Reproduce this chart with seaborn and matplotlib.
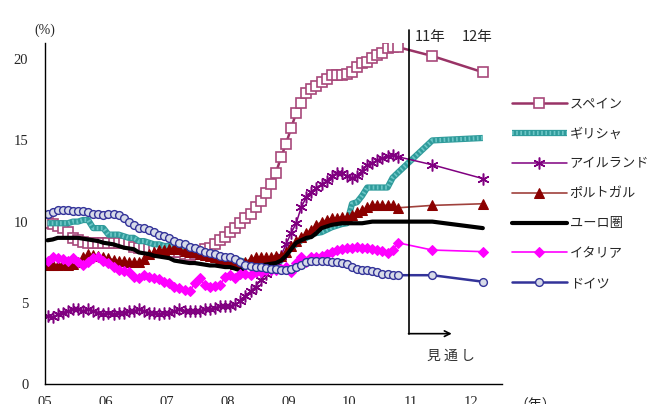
import numpy as np
import pandas as pd
import seaborn as sns
import matplotlib.pyplot as plt

# monthly data Jan 2005 - Oct 2010, then outlook for 11 and 12
months = 2005 + (np.arange(70) + 0.5) / 12
fc_x = [2011.36, 2012.19]

spain = [9.9, 9.85, 9.75, 9.6, 9.35, 9.0, 8.85, 8.75, 8.7, 8.7,
         8.7, 8.7, 8.7, 8.7, 8.7, 8.7, 8.6, 8.45, 8.4, 8.35,
         8.3, 8.3, 8.25, 8.2, 8.2, 8.15, 8.1, 8.0, 7.95, 8.0,
         8.1, 8.3, 8.4, 8.6, 8.85, 9.05, 9.35, 9.6, 9.9, 10.2,
         10.5, 10.9, 11.3, 11.75, 12.3, 13.0, 13.95, 14.8, 15.75, 16.7,
         17.3, 17.9, 18.15, 18.35, 18.6, 18.8, 19.0, 19.0, 19.0, 19.1,
         19.2, 19.5, 19.75, 19.8, 20.05, 20.25, 20.4, 20.7, 20.75, 20.75]
spain_fc = [20.2, 19.2]

greece = [9.9, 9.9, 9.9, 9.9, 9.9, 10.0, 10.0, 10.1, 10.1, 9.6,
          9.6, 9.6, 9.2, 9.2, 9.2, 9.1, 9.0, 9.0, 8.8, 8.8,
          8.7, 8.6, 8.6, 8.5, 8.5, 8.4, 8.3, 8.3, 8.2, 8.2,
          8.1, 8.0, 8.0, 7.9, 7.8, 7.8, 7.75, 7.7, 7.6, 7.5,
          7.4, 7.4, 7.35, 7.3, 7.3, 7.35, 7.6, 8.0, 8.4, 8.6,
          8.85, 9.0, 9.2, 9.3, 9.35, 9.5, 9.65, 9.75, 9.85, 9.9,
          11.1, 11.2, 11.6, 12.1, 12.1, 12.1, 12.1, 12.1, 12.7, 13.0]
greece_fc = [15.0, 15.15]

ireland = [4.2, 4.1, 4.3, 4.4, 4.5, 4.6, 4.6, 4.5, 4.6, 4.5,
           4.4, 4.3, 4.4, 4.3, 4.4, 4.4, 4.5, 4.5, 4.6, 4.5,
           4.4, 4.4, 4.3, 4.4, 4.4, 4.5, 4.6, 4.5, 4.5, 4.5,
           4.5, 4.6, 4.6, 4.7, 4.8, 4.8, 4.8, 4.9, 5.1, 5.4,
           5.7, 6.0, 6.4, 6.8, 7.1, 7.5, 7.9, 8.6, 9.3, 9.9,
           10.9, 11.5, 11.8, 12.1, 12.3, 12.5, 12.8, 13.0, 13.0, 12.8,
           12.7, 12.8, 13.1, 13.5, 13.6, 13.8, 13.9, 14.05, 14.1, 14.0]
ireland_fc = [13.5, 12.65]

portugal = [7.3, 7.3, 7.3, 7.4, 7.3, 7.4, 7.5, 7.8, 8.0, 7.95,
            7.9, 7.8, 7.75, 7.65, 7.6, 7.55, 7.5, 7.5, 7.5, 7.7,
            8.0, 8.15, 8.25, 8.25, 8.3, 8.35, 8.3, 8.2, 8.15, 8.1,
            8.0, 7.95, 7.9, 7.8, 7.7, 7.6, 7.5, 7.4, 7.3, 7.5,
            7.7, 7.8, 7.8, 7.8, 7.85, 7.9, 7.9, 8.1, 8.5, 8.8,
            9.05, 9.3, 9.5, 9.8, 10.0, 10.1, 10.2, 10.25, 10.3, 10.3,
            10.4, 10.6, 10.7, 10.9, 11.0, 11.0, 11.0, 11.0, 11.0, 10.85]
portugal_fc = [11.0, 11.1]

euro = [8.85, 8.9, 9.0, 9.0, 9.0, 9.0, 9.0, 8.95, 8.9, 8.85,
        8.8, 8.7, 8.65, 8.6, 8.5, 8.4, 8.35, 8.3, 8.1, 8.05,
        8.0, 7.9, 7.85, 7.8, 7.75, 7.6, 7.55, 7.5, 7.45, 7.45,
        7.4, 7.35, 7.3, 7.3, 7.25, 7.2, 7.2, 7.1, 7.0, 7.2,
        7.25, 7.3, 7.3, 7.35, 7.4, 7.45, 7.6, 7.9, 8.3, 8.7,
        8.85, 9.0, 9.05, 9.3, 9.6, 9.7, 9.8, 9.85, 9.9, 9.9,
        9.9, 9.9, 9.9, 9.95, 10.0, 10.0, 10.0, 10.0, 10.0, 10.0]
euro_fc = [10.0, 9.6]

italy = [7.6, 7.8, 7.75, 7.7, 7.6, 7.75, 7.5, 7.3, 7.5, 7.75,
         7.8, 7.6, 7.45, 7.2, 7.0, 6.95, 6.9, 6.6, 6.5, 6.7,
         6.6, 6.5, 6.45, 6.3, 6.2, 6.0, 5.9, 5.8, 5.7, 6.2,
         6.5, 6.1, 6.0, 6.05, 6.1, 6.6, 6.7, 6.5, 6.8, 6.75,
         6.7, 6.9, 6.9, 7.0, 7.0, 7.05, 7.1, 7.2, 6.9, 7.45,
         7.8, 7.5, 7.8, 7.85, 7.9, 8.0, 8.1, 8.25, 8.3, 8.35,
         8.4, 8.45, 8.4, 8.35, 8.3, 8.25, 8.2, 8.05, 8.25, 8.7]
italy_fc = [8.25, 8.15]

germany = [10.5, 10.6, 10.7, 10.7, 10.7, 10.65, 10.65, 10.65, 10.6, 10.5,
           10.5, 10.4, 10.5, 10.5, 10.4, 10.2, 10.0, 9.8, 9.6, 9.6,
           9.5, 9.35, 9.2, 9.1, 9.0, 8.8, 8.7, 8.6, 8.45, 8.35,
           8.25, 8.1, 8.05, 8.0, 7.9, 7.8, 7.8, 7.7, 7.5, 7.3,
           7.25, 7.2, 7.2, 7.15, 7.1, 7.1, 7.0, 7.05, 7.1, 7.2,
           7.35, 7.5, 7.6, 7.6, 7.6, 7.55, 7.5, 7.5, 7.45, 7.4,
           7.2, 7.1, 7.0, 7.0, 6.95, 6.9, 6.8, 6.75, 6.7, 6.7]
germany_fc = [6.7, 6.3]

labels = ["スペイン", "ギリシャ", "アイルランド", "ポルトガル", "ユーロ圏", "イタリア", "ドイツ"]
year_ticks = [2005, 2006, 2007, 2008, 2009, 2010, 2011, 2012]
year_labels = ["05", "06", "07", "08", "09", "10", "11", "12"]

x_all = np.concatenate([months, fc_x])

sns.set_style("white")
plt.rcParams['font.family'] = ['Noto Sans CJK JP', 'DejaVu Sans']

fig = plt.figure(figsize=(6.55, 4.04), dpi=100)
ax = fig.add_axes([45 / 655, 20 / 404, (501.7 - 45) / 655, (384 - 43) / 404])

def draw(vals, fc, **kw):
    y = np.concatenate([vals, fc])
    sns.lineplot(x=x_all, y=y, ax=ax, estimator=None, sort=False, legend=False, **kw)
    return ax.lines[-1]

h_spain = draw(spain, spain_fc, color="#993366", lw=1.8, marker="s", ms=6.8,
               mfc="white", mec="#a8487a", mew=1.2)
h_greece = draw(greece, greece_fc, color="#2f9b9b", lw=4.5, solid_capstyle="butt")
h_greece2, = ax.plot(x_all, np.concatenate([greece, greece_fc]), color="#6cc6c6",
                     lw=3.0, ls=(0, (0.4, 0.6)))
h_ireland = draw(ireland, ireland_fc, color="#800080", lw=1.1, marker=(6, 2, 0), ms=8.5,
                 mec="#800080", mew=1.1)
h_portugal = draw(portugal, portugal_fc, color="#a0413c", lw=1.2, marker="^", ms=6.5,
                  mfc="#8b0000", mec="#8b0000")
h_euro = draw(euro, euro_fc, color="black", lw=3.0)
h_italy = draw(italy, italy_fc, color="#ff00ff", lw=1.2, marker="D", ms=4.6,
               mfc="#ff00ff", mec="#ff00ff")
h_germany = draw(germany, germany_fc, color="#333399", lw=1.8, marker="o", ms=5.6,
                 mfc="#d7dbe8", mec="#333399", mew=1.0)

ax.set_xlim(2005, 2012.5)
ax.set_ylim(0, 21)
ax.set_xticks(year_ticks)
ax.set_xticklabels(year_labels)
ax.set_yticks([0, 5, 10, 15, 20])
ax.set_xlabel("")
ax.set_ylabel("")
for lab in ax.get_xticklabels() + ax.get_yticklabels():
    lab.set_family("Liberation Serif")
    lab.set_fontsize(10.5)
ax.tick_params(axis="both", direction="in", length=5, width=1, color="black")
ax.tick_params(axis="x", pad=9)
ax.tick_params(axis="y", pad=12)
for s in ["top", "right"]:
    ax.spines[s].set_visible(False)
for s in ["left", "bottom"]:
    ax.spines[s].set_color("black")
    ax.spines[s].set_linewidth(1.0)

# outlook marker
vx = 2010.98
ax.plot([vx, vx], [21.8, 3.1], color="black", lw=1.2, clip_on=False)
ax.annotate("", xy=(2011.68, 3.1), xytext=(vx - 0.01, 3.1),
            arrowprops=dict(arrowstyle="->", color="black", lw=1.2,
                            shrinkA=0, shrinkB=0), annotation_clip=False)
ax.text(2011.67, 1.75, "見 通 し", ha="center", va="center", fontsize=10, color="#333333")
ax.text(2011.32, 21.35, "11年", ha="center", va="center", fontsize=10.5, clip_on=False)
ax.text(2012.09, 21.35, "12年", ha="center", va="center", fontsize=10.5, clip_on=False)
ax.text(2005.0, 21.8, "(%)", ha="center", va="center", fontsize=10,
        family="Liberation Serif", clip_on=False)
fig.text(535 / 655, -2 / 404, "（年）", ha="center", va="center", fontsize=10)

leg = ax.legend([h_spain, (h_greece, h_greece2), h_ireland, h_portugal, h_euro, h_italy, h_germany],
                labels, loc="upper left", bbox_to_anchor=(505 / 655, 1 - 91 / 404),
                bbox_transform=fig.transFigure, frameon=False, fontsize=9.5,
                handlelength=4.2, handletextpad=0.2, labelspacing=1.28, borderpad=0)

fig.savefig("out.png", dpi=100)
